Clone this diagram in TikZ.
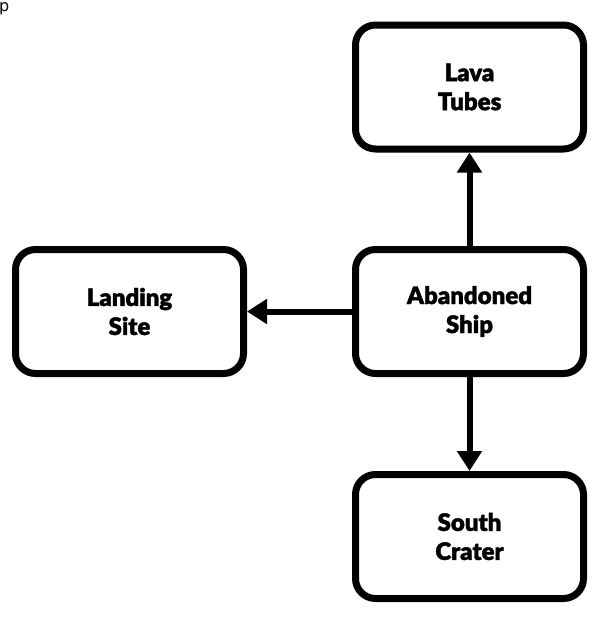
\documentclass[tikz,border=0pt]{standalone}
\usepackage{fontspec}
\setmainfont{DejaVu Sans}
\newfontfamily\heavy{Lato Black}[FakeBold=1.6]
\usetikzlibrary{arrows.meta}
\begin{document}
\begin{tikzpicture}[x=1pt,y=-1pt,
  place/.style={draw=black,line width=7pt,rounded corners=20pt,fill=white,
    minimum width=228pt,minimum height=124pt,align=center,
    font=\heavy\fontsize{24pt}{29pt}\selectfont,inner sep=0pt},
  link/.style={line width=6pt,-{Triangle[length=20pt,width=24pt]}}]
\useasboundingbox (0,0) rectangle (607,625);
\node[anchor=base west,inner sep=0pt,font=\fontsize{16pt}{18pt}\selectfont] (lbl) at (-1,11) {p};
\node[place] (lava) at (469.5,87) {Lava\\Tubes};
\node[place] (land) at (129.5,311.5) {Landing\\Site};
\node[place] (ship) at (469.5,311.5) {Abandoned\\Ship};
\node[place] (south) at (469.5,536.5) {South\\Crater};
\draw[link] (ship) -- (lava);
\draw[link] (ship) -- (land);
\draw[link] (ship) -- (south);
\end{tikzpicture}
\end{document}
